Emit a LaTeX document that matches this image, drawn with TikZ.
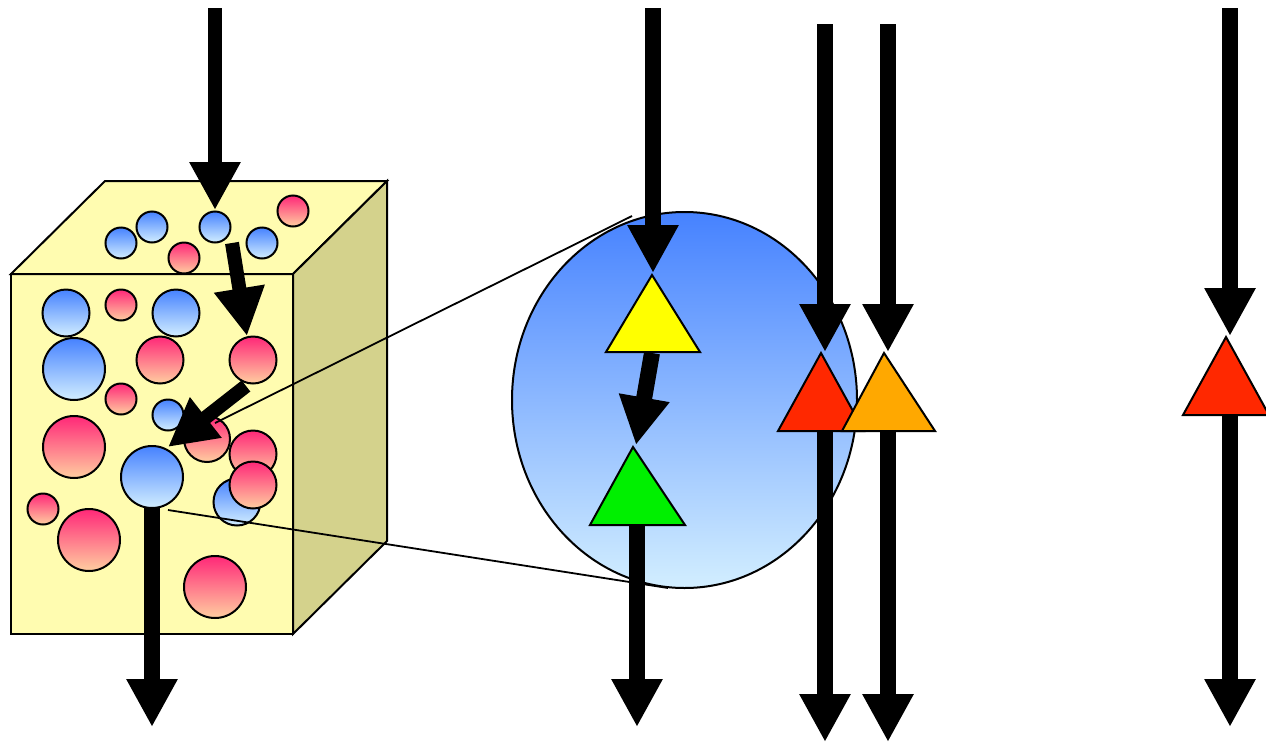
\documentclass[tikz,border=0pt]{standalone}
\usetikzlibrary{arrows.meta}
\definecolor{boxface}{RGB}{255,252,176}
\definecolor{boxside}{RGB}{212,210,140}
\definecolor{bluetop}{RGB}{70,130,255}
\definecolor{bluebot}{RGB}{210,238,255}
\definecolor{pinktop}{RGB}{255,40,120}
\definecolor{pinkbot}{RGB}{255,206,160}
\definecolor{triyellow}{RGB}{255,255,0}
\definecolor{trigreen}{RGB}{0,240,0}
\definecolor{trired}{RGB}{255,40,0}
\definecolor{triorange}{RGB}{255,168,0}
\tikzset{
  outline/.style={draw=black, line width=2pt, line join=miter},
  bl/.style={outline, top color=bluetop, bottom color=bluebot},
  pk/.style={outline, top color=pinktop, bottom color=pinkbot},
  bigarrow/.style={line width=16pt, -{Triangle[width=48pt,length=48pt]}},
  smallarrow/.style={line width=14pt, -{Triangle[width=48pt,length=48pt]}},
  zoomline/.style={draw=black, line width=1.8pt},
  tri/.style={outline, line join=miter}
}
\begin{document}
\begin{tikzpicture}[x=1pt,y=-1pt]
\begin{scope}
\clip (0,0) rectangle (1266,742);

% block of material
\path[outline, fill=boxface] (11,274) rectangle (293,634);
\path[outline, fill=boxface] (11,274) -- (105,181) -- (387,181) -- (293,274) -- cycle;
\path[outline, fill=boxside] (293,274) -- (387,181) -- (387,541) -- (293,634) -- cycle;

% grains on the top face
\path[bl] (121,243) circle[radius=15.5pt];
\path[bl] (152,227) circle[radius=15.5pt];
\path[bl] (215,227) circle[radius=15.5pt];
\path[bl] (262,243) circle[radius=15.5pt];
\path[pk] (184,258) circle[radius=15.5pt];
\path[pk] (293,211) circle[radius=15.5pt];

% grains on the front face
\path[bl] (66,313) circle[radius=23.5pt];
\path[pk] (121,305) circle[radius=15.5pt];
\path[bl] (176,313) circle[radius=23.5pt];
\path[bl] (74,369) circle[radius=31pt];
\path[pk] (160,360) circle[radius=23.5pt];
\path[pk] (253,360) circle[radius=23.5pt];
\path[pk] (121,399) circle[radius=15.5pt];
\path[bl] (168,415) circle[radius=15.5pt];
\path[pk] (74,447) circle[radius=31pt];
\path[pk] (207,439) circle[radius=23pt];
\path[pk] (253,454) circle[radius=23.5pt];
\path[bl] (237,502) circle[radius=23.5pt];
\path[pk] (253,485) circle[radius=23.5pt];
\path[bl] (152,477) circle[radius=31pt];
\path[pk] (43,509) circle[radius=15.5pt];
\path[pk] (89,540) circle[radius=31pt];
\path[pk] (215,587) circle[radius=31pt];

% magnified grain
\path[outline, top color=bluetop, bottom color=bluebot]
  (684.5,400) ellipse[x radius=172.5pt, y radius=188pt];

% magnification lines
\coordinate (zA) at (215,423);
\coordinate (zB) at (632,216);
\coordinate (zC) at (168,510);
\coordinate (zD) at (668,588);
\draw[zoomline] (zA) -- (zB);
\draw[zoomline] (zC) -- (zD);

% triangles
\path[tri, fill=triyellow] (652,275) -- (700,352) -- (606,352) -- cycle;
\path[tri, fill=trigreen] (633,447) -- (685,525) -- (590,525) -- cycle;
\path[tri, fill=trired] (821,353) -- (864,431) -- (778,431) -- cycle;
\path[tri, fill=triorange] (884,353) -- (935,431) -- (842,431) -- cycle;
\path[tri, fill=trired] (1226,337) -- (1269,415) -- (1183,415) -- cycle;

% arrows in the block
\coordinate (a1s) at (215,8);    \coordinate (a1e) at (215,210);
\coordinate (a2s) at (232,243);  \coordinate (a2e) at (247,336);
\coordinate (a3s) at (246,386);  \coordinate (a3e) at (168,447);
\coordinate (a4s) at (152,508);  \coordinate (a4e) at (152,727);
\draw[smallarrow] (a1s) -- (a1e);
\draw[smallarrow] (a2s) -- (a2e);
\draw[smallarrow] (a3s) -- (a3e);
\draw[bigarrow] (a4s) -- (a4e);

% arrows through the magnified grain
\coordinate (b1s) at (653,8);    \coordinate (b1e) at (653,273);
\coordinate (b2s) at (652,353);  \coordinate (b2e) at (636,445);
\coordinate (b3s) at (637,525);  \coordinate (b3e) at (637,727);
\draw[bigarrow] (b1s) -- (b1e);
\draw[bigarrow] (b2s) -- (b2e);
\draw[bigarrow] (b3s) -- (b3e);

% arrows through the red and orange triangles
\coordinate (c1s) at (825,24);   \coordinate (c1e) at (825,352);
\coordinate (c2s) at (825,431);  \coordinate (c2e) at (825,742);
\coordinate (d1s) at (888,24);   \coordinate (d1e) at (888,352);
\coordinate (d2s) at (888,431);  \coordinate (d2e) at (888,742);
\draw[bigarrow] (c1s) -- (c1e);
\draw[bigarrow] (c2s) -- (c2e);
\draw[bigarrow] (d1s) -- (d1e);
\draw[bigarrow] (d2s) -- (d2e);

% far right column
\coordinate (e1s) at (1230,8);   \coordinate (e1e) at (1230,336);
\coordinate (e2s) at (1230,415); \coordinate (e2e) at (1230,727);
\draw[bigarrow] (e1s) -- (e1e);
\draw[bigarrow] (e2s) -- (e2e);
\end{scope}
\pgfresetboundingbox
\useasboundingbox (0,0) rectangle (1266,742);
\end{tikzpicture}
\end{document}
